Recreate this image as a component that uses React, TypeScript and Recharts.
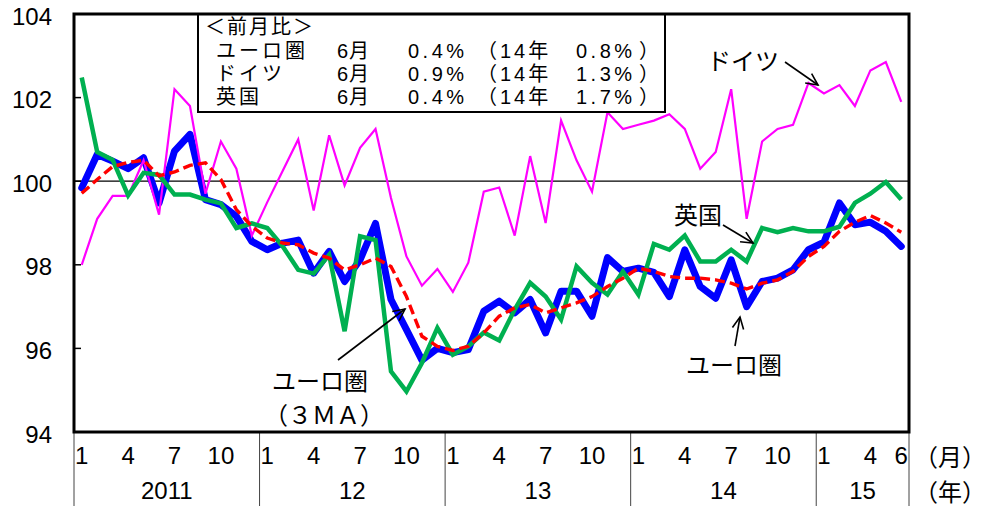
import React from "react";
import { LineChart, Line, XAxis, YAxis, ReferenceLine } from "recharts";

// ---- categories ----
const yearLabels = ["2011", "12", "13", "14", "15"];
const monthsPerYear = [12, 12, 12, 12, 6];
const labeledMonths = [1, 4, 7, 10];
const yTicks = [94, 96, 98, 100, 102, 104];

// ---- series (index, 2010=100) ----
const euroArea = [
  99.84, 100.64, 100.48, 100.3, 100.56, 99.48, 100.72, 101.12, 99.56, 99.44, 99.16, 98.56,
  98.36, 98.52, 98.59, 97.8, 98.32, 97.6, 98.12, 98.99, 97.17, 96.45, 95.72, 96.0,
  95.9, 95.97, 96.89, 97.13, 96.85, 97.17, 96.37, 97.37, 97.37, 96.77, 98.17, 97.84,
  97.92, 97.82, 97.24, 98.36, 97.48, 97.2, 98.12, 97.0, 97.6, 97.68, 97.88, 98.36,
  98.54, 99.48, 98.96, 99.02, 98.8, 98.44,
];
const germany = [
  98.0, 99.1, 99.65, 99.65, 100.5, 99.2, 102.2, 101.8, 99.7, 100.95, 100.3, 98.7,
  99.5, 100.25, 101.0, 99.3, 101.1, 99.9, 100.8, 101.25, 99.6, 98.2, 97.5, 97.9,
  97.35, 98.05, 99.75, 99.85, 98.7, 100.6, 99.0, 101.45, 100.5, 99.75, 101.65, 101.25,
  101.35, 101.45, 101.6, 101.25, 100.3, 100.7, 102.2, 99.1, 100.95, 101.25, 101.35, 102.35,
  102.1, 102.3, 101.8, 102.65, 102.85, 101.9,
];
const uk = [
  102.48, 100.7, 100.51, 99.66, 100.2, 100.15, 99.68, 99.68, 99.56, 99.47, 98.88, 98.99,
  98.88, 98.44, 97.88, 97.79, 98.24, 96.41, 98.68, 98.59, 95.45, 94.97, 95.65, 96.49,
  95.85, 96.05, 96.38, 96.19, 96.93, 97.57, 97.24, 96.69, 97.96, 97.57, 97.29, 97.84,
  97.29, 98.5, 98.36, 98.7, 98.08, 98.08, 98.36, 98.08, 98.88, 98.78, 98.88, 98.8,
  98.8, 98.91, 99.48, 99.7, 99.98, 99.56,
];
const euro3MA = [
  99.71, 100.04, 100.35, 100.45, 100.5, 100.13, 100.22, 100.38, 100.44, 100.04, 99.32, 98.92,
  98.64, 98.52, 98.48, 98.28, 98.16, 97.88, 98.0, 98.16, 97.96, 97.24, 96.29, 96.05,
  95.95, 96.05, 96.37, 96.77, 96.97, 97.05, 96.85, 96.97, 97.09, 97.24, 97.48, 97.68,
  97.92, 97.84, 97.72, 97.68, 97.68, 97.64, 97.56, 97.42, 97.56, 97.64, 97.84, 98.2,
  98.44, 98.8, 99.02, 99.18, 99.0, 98.78,
];

// legend box text (month-on-month change)
const legendTitle = "＜前月比＞";
const legendNames = ["ユーロ圏", "ドイツ", "英国"];
const legendMonth = "6月";
const legendValues = ["0.4%", "0.9%", "0.4%"];
const legendPrevYear = "（14年";
const legendPrevValues = ["0.8%", "1.3%", "1.7%"];

// ---- layout ----
const W = 998;
const H = 506;
const PLOT_L = 74;
const PLOT_R = 909;
const PLOT_T = 14;
const PLOT_B = 432;
const N = euroArea.length;
const BAND = (PLOT_R - PLOT_L) / N;

const NUM_FONT = "'Liberation Sans', Arial, sans-serif";
const JP_FONT = "'Noto Sans CJK JP', 'Noto Sans', sans-serif";
const BOX_FONT = "'Liberation Sans', 'Noto Sans CJK JP', sans-serif";

type Row = {
  idx: number;
  month: number;
  yearIdx: number;
  euro: number;
  germany: number;
  uk: number;
  euro3ma: number;
};

const rows: Row[] = [];
{
  let k = 0;
  yearLabels.forEach((_, yi) => {
    for (let m = 1; m <= monthsPerYear[yi]; m++) {
      rows.push({
        idx: k,
        month: m,
        yearIdx: yi,
        euro: euroArea[k],
        germany: germany[k],
        uk: uk[k],
        euro3ma: euro3MA[k],
      });
      k++;
    }
  });
}

function XTick(props: any) {
  const { x, y, payload } = props;
  const i = Number(payload.value);
  const r = rows[i];
  if (!r) return <g />;
  const els: React.ReactNode[] = [];
  if (labeledMonths.includes(r.month) || i === N - 1) {
    els.push(
      <text key="m" x={x} y={y + 23} textAnchor="middle" dominantBaseline="central"
        fontFamily={NUM_FONT} fontSize={24} fill="#000">{r.month}</text>
    );
  }
  if (r.month === 1) {
    const left = x - BAND / 2;
    els.push(<line key="s" x1={left} x2={left} y1={y} y2={H} stroke="#444" strokeWidth={1} />);
    const cnt = monthsPerYear[r.yearIdx];
    els.push(
      <text key="y" x={left + (cnt * BAND) / 2} y={y + 58} textAnchor="middle" dominantBaseline="central"
        fontFamily={NUM_FONT} fontSize={24} fill="#000">{yearLabels[r.yearIdx]}</text>
    );
  }
  if (i === N - 1) {
    const right = x + BAND / 2;
    els.push(<line key="e" x1={right} x2={right} y1={y} y2={H} stroke="#444" strokeWidth={1} />);
  }
  return <g>{els}</g>;
}

function YTick(props: any) {
  const { x, y, payload } = props;
  return (
    <g>
      <text x={x - 22} y={y + 2} textAnchor="end" dominantBaseline="central"
        fontFamily={NUM_FONT} fontSize={24} fill="#000">{payload.value}</text>
      <line x1={x} x2={x + 7} y1={y} y2={y} stroke="#000" strokeWidth={1.5} />
    </g>
  );
}

function Arrow({ x1, y1, x2, y2 }: { x1: number; y1: number; x2: number; y2: number }) {
  const ang = Math.atan2(y2 - y1, x2 - x1);
  const L = 13;
  const a1 = ang + Math.PI - 0.45;
  const a2 = ang + Math.PI + 0.45;
  return (
    <g stroke="#000" strokeWidth={1.6} fill="none">
      <line x1={x1} y1={y1} x2={x2} y2={y2} />
      <polyline points={`${x2 + L * Math.cos(a1)},${y2 + L * Math.sin(a1)} ${x2},${y2} ${x2 + L * Math.cos(a2)},${y2 + L * Math.sin(a2)}`} />
    </g>
  );
}

function JText({ x, y, children, size = 24, anchor = "start", ls = 0 }: any) {
  return (
    <text x={x} y={y} fontFamily={JP_FONT} fontSize={size} fill="#000" textAnchor={anchor}
      dominantBaseline="central" letterSpacing={ls}>{children}</text>
  );
}

function LegendBox() {
  const B = 7.5; // baseline offset from row centre
  const rowsY = [50, 73, 96];
  return (
    <g>
      <rect x={198} y={PLOT_T} width={467} height={98} fill="#fff" stroke="#000" strokeWidth={2} />
      <text fontFamily={BOX_FONT} fontSize={20} fill="#000">
        <tspan x={205} y={26 + B} letterSpacing={2}>{legendTitle}</tspan>
        {legendNames.map((nm, i) => (
          <React.Fragment key={i}>
            <tspan x={216} y={rowsY[i] + B} letterSpacing={3}>{nm}</tspan>
            <tspan x={337} y={rowsY[i] + B} letterSpacing={1}>{legendMonth}</tspan>
            <tspan x={408} y={rowsY[i] + B} letterSpacing={3.5}>{legendValues[i]}</tspan>
            <tspan x={477} y={rowsY[i] + B} letterSpacing={3}>{legendPrevYear}</tspan>
            <tspan x={576} y={rowsY[i] + B} letterSpacing={3.5}>{legendPrevValues[i]}</tspan>
            <tspan x={639} y={rowsY[i] + B}>）</tspan>
          </React.Fragment>
        ))}
      </text>
    </g>
  );
}

export default function App() {
  return (
    <div style={{ position: "absolute", left: 0, top: 0, width: W, height: H, background: "#fff" }}>
      <LineChart width={W} height={H} data={rows} margin={{ top: PLOT_T, right: W - PLOT_R, bottom: 0, left: 0 }}>
        <XAxis dataKey="idx" type="category" interval={0} height={H - PLOT_B} axisLine={false}
          tickLine={false} tickSize={0} tickMargin={0} padding={{ left: BAND / 2, right: BAND / 2 }}
          tick={(p: any) => <XTick {...p} />} />
        <YAxis type="number" domain={[94, 104]} ticks={yTicks} width={PLOT_L} axisLine={false}
          tickLine={false} tickSize={0} tickMargin={0} interval={0}
          tick={(p: any) => <YTick {...p} />} />
        <ReferenceLine y={100} stroke="#000" strokeWidth={1.2} />
        <Line dataKey="euro" stroke="#0000FF" strokeWidth={7} dot={false} isAnimationActive={false}
          strokeLinejoin="round" strokeLinecap="round" type="linear" />
        <Line dataKey="germany" stroke="#FF00FF" strokeWidth={2.2} dot={false} isAnimationActive={false} type="linear" />
        <Line dataKey="uk" stroke="#00B050" strokeWidth={4.5} dot={false} isAnimationActive={false} type="linear" />
        <Line dataKey="euro3ma" stroke="#FF0000" strokeWidth={3.4} strokeDasharray="10 5" dot={false}
          isAnimationActive={false} type="linear" />
      </LineChart>
      <svg width={W} height={H} style={{ position: "absolute", left: 0, top: 0, pointerEvents: "none" }}>
        <LegendBox />
        {/* plot frame */}
        <rect x={PLOT_L} y={PLOT_T} width={PLOT_R - PLOT_L} height={PLOT_B - PLOT_T} fill="none" stroke="#000" strokeWidth={3} />
        {/* annotations */}
        <JText x={707} y={59}>ドイツ</JText>
        <Arrow x1={785} y1={62} x2={818} y2={85} />
        <JText x={674} y={213}>英国</JText>
        <Arrow x1={723} y1={225} x2={753} y2={243} />
        <JText x={686} y={363}>ユーロ圏</JText>
        <Arrow x1={735} y1={346} x2={740} y2={317} />
        <JText x={272} y={379}>ユーロ圏</JText>
        <JText x={264} y={413}>（３ＭＡ）</JText>
        <Arrow x1={338} y1={360} x2={405} y2={309} />
        {/* unit labels */}
        <JText x={914} y={455}>（月）</JText>
        <JText x={914} y={490}>（年）</JText>
      </svg>
    </div>
  );
}
